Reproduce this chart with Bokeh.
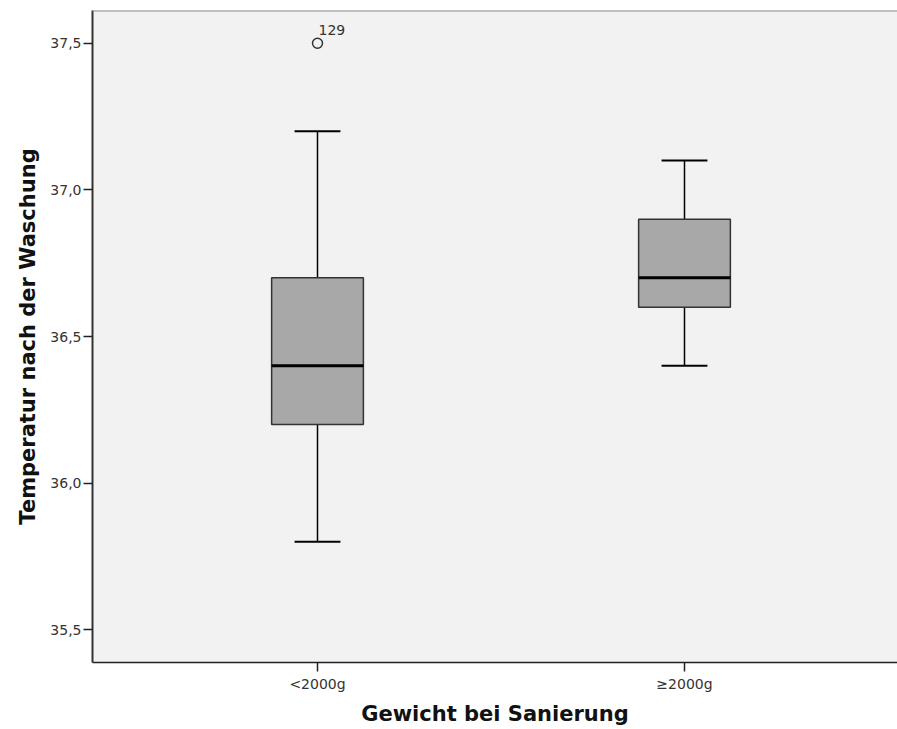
from bokeh.plotting import figure
from bokeh.models import (ColumnDataSource, FixedTicker, CustomJSTickFormatter,
                          Range1d, Span)
from bokeh.embed import file_html
from bokeh.resources import INLINE
from bokeh.core.properties import value

# ---- data ----
categories = ["<2000g", "≥2000g"]
lower_whisker = [35.8, 36.4]
q1 = [36.2, 36.6]
median = [36.4, 36.7]
q3 = [36.7, 36.9]
upper_whisker = [37.2, 37.1]
outlier_group = ["<2000g"]
outlier_value = [37.5]
outlier_label = ["129"]
y_ticks = [35.5, 36.0, 36.5, 37.0, 37.5]

pos = [i + 1 for i in range(len(categories))]
box_w = 0.25
cap_w = 0.125

src = ColumnDataSource(dict(
    x=pos, lo=lower_whisker, q1=q1, med=median, q3=q3, hi=upper_whisker,
    xl=[p - box_w / 2 for p in pos], xr=[p + box_w / 2 for p in pos],
    cl=[p - cap_w / 2 for p in pos], cr=[p + cap_w / 2 for p in pos],
))
opos = [pos[categories.index(g)] for g in outlier_group]
osrc = ColumnDataSource(dict(x=opos, y=outlier_value, t=outlier_label))

FONT = "DejaVu Sans"

p = figure(width=897, height=729, output_backend="svg", toolbar_location=None,
           x_range=Range1d(0.3869, 2.5804), y_range=Range1d(35.3885, 37.6115),
           min_border_left=92, min_border_right=0, min_border_top=10,
           min_border_bottom=67)
p.frame_width = 805
p.frame_height = 652
p.background_fill_color = "#f2f2f2"
p.border_fill_color = "white"
p.outline_line_color = None
p.xgrid.visible = False
p.ygrid.visible = False

# top border
p.add_layout(Span(location=37.6115, dimension="width", line_color="#8c8c8c",
                  line_width=2))

# whiskers
p.segment(x0="x", y0="q3", x1="x", y1="hi", source=src, line_color="black", line_width=1.5)
p.segment(x0="x", y0="lo", x1="x", y1="q1", source=src, line_color="black", line_width=1.5)
# caps
p.segment(x0="cl", y0="hi", x1="cr", y1="hi", source=src, line_color="black", line_width=2)
p.segment(x0="cl", y0="lo", x1="cr", y1="lo", source=src, line_color="black", line_width=2)
# boxes
p.vbar(x="x", width=box_w, bottom="q1", top="q3", source=src,
       fill_color="#a8a8a8", line_color="#333333", line_width=1.5)
# medians
p.segment(x0="xl", y0="med", x1="xr", y1="med", source=src, line_color="black", line_width=3)

# outliers
p.scatter(x="x", y="y", source=osrc, marker="circle", size=10,
          fill_color=None, line_color="#333333", line_width=1.5)
p.text(x="x", y="y", text="t", source=osrc, x_offset=1, y_offset=-13,
       text_font=value(FONT), text_font_size="14px", text_color="#333333",
       text_align="left", text_baseline="alphabetic")

# axes
xa = p.xaxis[0]
xa.ticker = FixedTicker(ticks=pos)
xa.major_label_overrides = {pos[i]: categories[i] for i in range(len(pos))}
xa.minor_tick_line_color = None
xa.major_tick_in = 0
xa.major_tick_out = 9
xa.major_tick_line_color = "#222222"
xa.major_tick_line_width = 1.5
xa.axis_line_color = "#222222"
xa.axis_line_width = 1.5
xa.major_label_text_font = FONT
xa.major_label_text_font_size = "14px"
xa.major_label_text_color = "#333333"
xa.major_label_standoff = 4
xa.axis_label = "Gewicht bei Sanierung"
xa.axis_label_text_font = FONT
xa.axis_label_text_font_style = "bold"
xa.axis_label_text_font_size = "21px"
xa.axis_label_text_color = "#111111"
xa.axis_label_standoff = 7

ya = p.yaxis[0]
ya.ticker = FixedTicker(ticks=y_ticks)
ya.formatter = CustomJSTickFormatter(code="return tick.toFixed(1).replace('.', ',');")
ya.minor_tick_line_color = None
ya.major_tick_in = 0
ya.major_tick_out = 9
ya.major_tick_line_color = "#222222"
ya.major_tick_line_width = 1.5
ya.axis_line_color = "#333333"
ya.axis_line_width = 2
ya.major_label_text_font = FONT
ya.major_label_text_font_size = "14px"
ya.major_label_text_color = "#333333"
ya.major_label_standoff = 2
ya.axis_label = "Temperatur nach der Waschung"
ya.axis_label_text_font = FONT
ya.axis_label_text_font_style = "bold"
ya.axis_label_text_font_size = "21px"
ya.axis_label_text_color = "#111111"
ya.axis_label_standoff = 7

open("out.html", "w").write(file_html(p, INLINE))
